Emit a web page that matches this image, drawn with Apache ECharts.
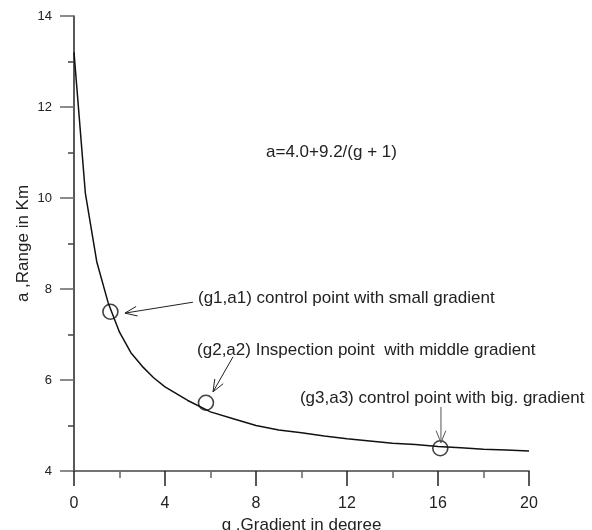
<!DOCTYPE html>
<html>
<head>
<meta charset="utf-8">
<script src="https://cdn.jsdelivr.net/npm/echarts@6/dist/echarts.min.js"></script>
<style>
  html, body { margin: 0; padding: 0; background: #fff; }
  #chart { width: 592px; height: 530px; }
</style>
</head>
<body>
<div id="chart"></div>
<script>
// curve a(g)
var gValues = [0, 0.5, 1, 1.5, 2, 2.5, 3, 3.5, 4, 5, 6, 7, 8, 9, 10, 11, 12, 13, 14, 15, 16, 17, 18, 19, 20];
var aValues = [13.2, 10.1, 8.6, 7.7, 7.05, 6.6, 6.3, 6.05, 5.85, 5.55, 5.3, 5.15, 5.0, 4.9, 4.84, 4.77, 4.71, 4.66, 4.61, 4.58, 4.54, 4.51, 4.48, 4.46, 4.44];

// the three marked points
var pointG = [1.6, 5.8, 16.1];
var pointA = [7.5, 5.5, 4.5];

// notes: text, anchor (left end) and arrow tail -> tip, all in data units
var noteText = [
  '(g1,a1) control point with small gradient',
  '(g2,a2) Inspection point  with middle gradient',
  '(g3,a3) control point with big. gradient'
];
var noteAt = [[5.45, 7.8], [5.41, 6.66], [9.93, 5.6]];
var arrowFrom = [[5.23, 7.71], [6.99, 6.51], [16.13, 5.41]];
var arrowTo = [[2.24, 7.47], [6.11, 5.74], [16.13, 4.62]];
var arrowColor = ['#222', '#222', '#555'];

var formulaText = 'a=4.0+9.2/(g + 1)';
var formulaAt = [8.44, 11.0];

var font = 'Liberation Sans, Arial, sans-serif';

var curveData = gValues.map(function (g, i) { return [g, aValues[i]]; });
var pointData = pointG.map(function (g, i) { return [g, pointA[i]]; });

function renderNote(params, api) {
  var i = params.dataIndex;
  var p0 = api.coord(arrowFrom[i]);
  var p1 = api.coord(arrowTo[i]);
  var t = api.coord(noteAt[i]);
  var ang = Math.atan2(p1[1] - p0[1], p1[0] - p0[0]);
  var len = 13, spread = 0.38;
  var h1 = [p1[0] - len * Math.cos(ang - spread), p1[1] - len * Math.sin(ang - spread)];
  var h2 = [p1[0] - len * Math.cos(ang + spread), p1[1] - len * Math.sin(ang + spread)];
  var st = { stroke: arrowColor[i], lineWidth: 1 };
  return {
    type: 'group',
    children: [
      { type: 'line', shape: { x1: p0[0], y1: p0[1], x2: p1[0], y2: p1[1] }, style: st },
      { type: 'polyline', shape: { points: [h1, p1, h2] }, style: { stroke: arrowColor[i], lineWidth: 1, fill: null } },
      { type: 'text', x: t[0], y: t[1], style: {
          text: noteText[i], fill: '#222', font: '17px ' + font,
          align: 'left', verticalAlign: 'middle' } }
    ]
  };
}

function renderFormula(params, api) {
  var t = api.coord(formulaAt);
  return { type: 'text', x: t[0], y: t[1], style: {
    text: formulaText, fill: '#222', font: '17px ' + font,
    align: 'left', verticalAlign: 'middle' } };
}

var chart = echarts.init(document.getElementById('chart'));

chart.setOption({
  animation: false,
  backgroundColor: '#fff',
  textStyle: { fontFamily: font },
  grid: { left: 74, right: 63, top: 16, bottom: 59, containLabel: false, outerBoundsMode: 'none' },
  xAxis: {
    type: 'value', min: 0, max: 20, interval: 4,
    name: 'g ,Gradient in degree', nameLocation: 'middle', nameGap: 44,
    nameTextStyle: { fontSize: 17, color: '#222', fontFamily: font },
    axisLine: { onZero: false, lineStyle: { color: '#444', width: 1.5 } },
    axisTick: { show: true, length: 15, lineStyle: { color: '#222', width: 1.5 } },
    minorTick: { show: true, splitNumber: 2, length: 7, lineStyle: { color: '#666', width: 1.5 } },
    axisLabel: { fontSize: 16, color: '#222', margin: 25 },
    splitLine: { show: false }
  },
  yAxis: {
    type: 'value', min: 4, max: 14, interval: 2,
    name: 'a ,Range in Km', nameLocation: 'middle', nameGap: 42, nameMoveOverlap: false,
    nameTextStyle: { fontSize: 17, color: '#222', fontFamily: font },
    axisLine: { show: true, onZero: false, lineStyle: { color: '#222', width: 1.5 } },
    axisTick: { show: true, length: 14, lineStyle: { color: '#666', width: 1.5 } },
    minorTick: { show: true, splitNumber: 2, length: 6, lineStyle: { color: '#444', width: 1.5 } },
    axisLabel: { fontSize: 13, color: '#222', margin: 22 },
    splitLine: { show: false }
  },
  series: [
    {
      type: 'line', data: curveData, smooth: false, symbol: 'none',
      lineStyle: { color: '#111', width: 1.5 }, z: 3
    },
    {
      type: 'scatter', data: pointData, symbol: 'circle', symbolSize: 15,
      itemStyle: { color: 'rgba(255,255,255,0)', borderColor: '#111', borderWidth: 1.6 }, z: 4
    },
    {
      type: 'custom', data: noteText.map(function (s, i) { return i; }),
      renderItem: renderNote, silent: true, z: 5
    },
    {
      type: 'custom', data: [0], renderItem: renderFormula, silent: true, z: 5
    }
  ]
});
</script>
</body>
</html>
